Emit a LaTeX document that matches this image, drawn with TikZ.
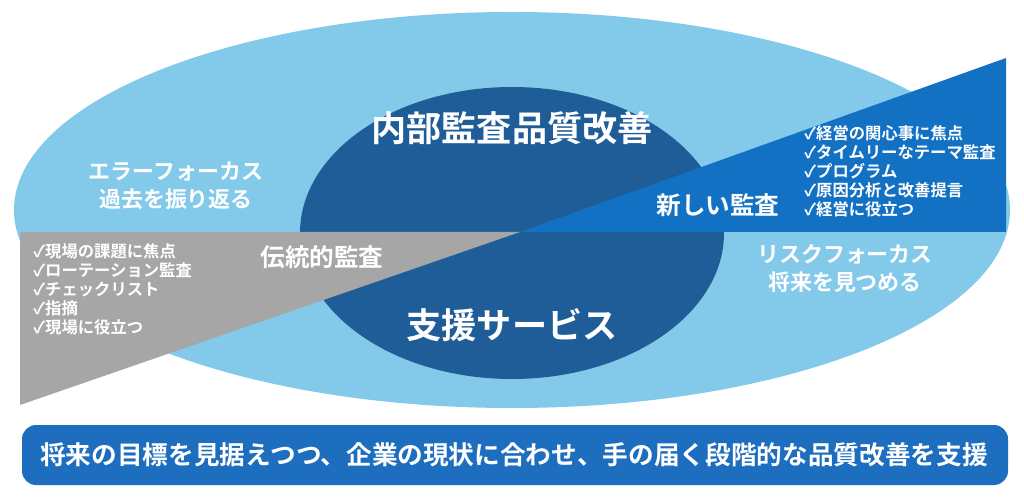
\documentclass[tikz,border=0pt]{standalone}
\usepackage{fontspec}
\setmainfont{Noto Sans CJK JP}[BoldFont={* Bold}]
\definecolor{lb}{HTML}{82C9EA}
\definecolor{db}{HTML}{1F5D99}
\definecolor{gr}{HTML}{A6A6A6}
\definecolor{bt}{HTML}{1371C3}
\definecolor{bn}{HTML}{1E6EC0}
\tikzset{lst/.style={font=\bfseries\fontsize{9.3}{10.8}\selectfont, align=left, anchor=north west, inner sep=0pt},
 mid/.style={font=\bfseries\fontsize{12.5}{16}\selectfont, align=center, white}}
\begin{document}
\begin{tikzpicture}[x=0.02cm,y=-0.02cm]
\useasboundingbox (0,0) rectangle (1024,503);
\fill[lb] (512,210) ellipse [x radius=498, y radius=198];
\fill[db] (512,233) ellipse [x radius=212, y radius=146];
\fill[gr] (20,232) -- (520,232) -- (20,405) -- cycle;
\fill[bt] (1006,58) -- (1006,232) -- (520,232) -- cycle;
\node[font=\bfseries\fontsize{20}{22}\selectfont, white] (t1) at (512,128) {内部監査品質改善};
\node[font=\bfseries\fontsize{20}{22}\selectfont, white] (t2) at (512,325) {支援サービス};
\node[mid] (ef) at (176,186) {エラーフォーカス\\過去を振り返る};
\node[mid] (rf) at (845,268) {リスクフォーカス\\将来を見つめる};
\node[font=\bfseries\fontsize{14}{16}\selectfont, white] (na) at (718,205) {新しい監査};
\node[font=\bfseries\fontsize{14}{16}\selectfont, white] (da) at (322,257) {伝統的監査};
\node[lst, white] (l1) at (33,243) {✓現場の課題に焦点\\✓ローテーション監査\\✓チェックリスト\\✓指摘\\✓現場に役立つ};
\node[lst, white] (l2) at (804,125) {✓経営の関心事に焦点\\✓タイムリーなテーマ監査\\✓プログラム\\✓原因分析と改善提言\\✓経営に役立つ};
\fill[bn, rounded corners=8] (22,425) rectangle (1008,485);
\node[font=\bfseries\fontsize{14.6}{16}\selectfont, white] (bb) at (514,455) {将来の目標を見据えつつ、企業の現状に合わせ、手の届く段階的な品質改善を支援};
\end{tikzpicture}
\end{document}
